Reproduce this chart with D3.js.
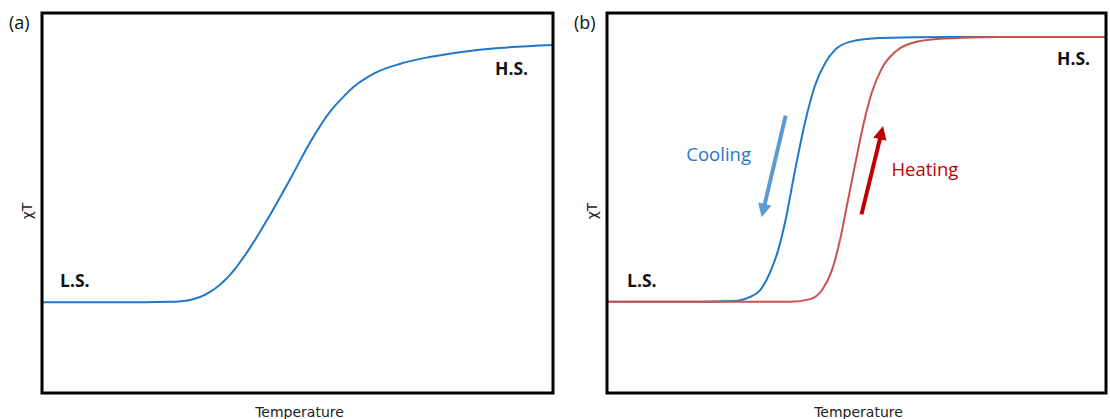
<!DOCTYPE html>
<html>
<head>
<meta charset="utf-8">
<script src="https://cdn.jsdelivr.net/npm/d3@7"></script>
<style>
html,body{margin:0;padding:0;background:#fff;}
svg{display:block;}
</style>
</head>
<body>
<svg id="chart" width="1110" height="419"></svg>
<script>
// Panel (a): gradual spin crossover
const tempA = [0, 20, 25.1, 29, 32.9, 36.8, 40.7, 44.6, 48.5, 52.4, 56.3, 59.3, 61.2, 62.2, 65.1, 70, 75.8, 81.7, 89.5, 100];
const chiA  = [23.9, 23.9, 24.0, 24.5, 26.6, 31.1, 38.2, 46.8, 56.1, 65.8, 73.9, 78.4, 80.8, 81.8, 84.2, 86.6, 88.4, 89.7, 90.8, 91.6];

// Panel (b): abrupt transition with hysteresis
const tempCool = [0, 18.8, 25.3, 28.7, 30.7, 32.7, 34.3, 35.7, 37.7, 39.7, 41.7, 43.7, 45.7, 48.7, 54.7, 68.7, 100];
const chiCool  = [24, 24, 24.2, 25.3, 27.1, 31.8, 37.6, 45, 58.7, 71.3, 81, 86.8, 90.3, 92.4, 93.4, 93.7, 93.7];
const tempHeat = [0, 36.7, 40.7, 43.1, 45.1, 46.7, 48.3, 49.9, 51.5, 53.1, 55.1, 57.7, 61.1, 66.7, 78.6, 100];
const chiHeat  = [24, 24, 24.7, 27.1, 32.4, 40.3, 50.8, 61.3, 71.3, 79.2, 85.5, 89.7, 92.1, 93.2, 93.7, 93.7];

const panelLabels = ["(a)", "(b)"];
const xTitle = "Temperature";
const yTitle = "χT";
const stateLabels = ["L.S.", "H.S."];

const svg = d3.select("#chart");
const plotTop = 13, plotBottom = 393;
const y = d3.scaleLinear().domain([0, 100]).range([plotBottom, plotTop]);

function panel(x0, x1, label, lsPos, hsPos) {
  const x = d3.scaleLinear().domain([0, 100]).range([x0, x1]);
  const g = svg.append("g");
  g.append("text").attr("x", x0 - 33).attr("y", 29).attr("font-family", "Open Sans, sans-serif")
    .attr("font-size", 18).attr("fill", "#111").text(label);
  g.append("text").attr("transform", `translate(${x0 - 10},${211}) rotate(-90)`)
    .attr("text-anchor", "middle").attr("font-family", "DejaVu Sans, sans-serif")
    .attr("font-size", 14).attr("fill", "#222").text(yTitle);
  g.append("text").attr("x", (x0 + x1) / 2 + 2).attr("y", 417).attr("text-anchor", "middle")
    .attr("font-family", "DejaVu Sans, sans-serif").attr("font-size", 14).attr("fill", "#222").text(xTitle);
  g.append("text").attr("x", lsPos[0]).attr("y", lsPos[1]).attr("font-family", "Open Sans, sans-serif")
    .attr("font-weight", "bold").attr("font-size", 17.5).attr("fill", "#111").text(stateLabels[0]);
  g.append("text").attr("x", hsPos[0]).attr("y", hsPos[1]).attr("font-family", "Open Sans, sans-serif")
    .attr("font-weight", "bold").attr("font-size", 17.5).attr("fill", "#111").text(stateLabels[1]);
  return {g, x};
}

function drawLine(g, x, xs, ys, color) {
  const line = d3.line().x(d => x(d[0])).y(d => y(d[1])).curve(d3.curveMonotoneX);
  g.append("path").datum(xs.map((v, i) => [v, ys[i]]))
    .attr("d", line).attr("fill", "none").attr("stroke", color).attr("stroke-width", 2);
}

function frame(g, x0, x1) {
  g.append("rect").attr("x", x0).attr("y", plotTop).attr("width", x1 - x0).attr("height", plotBottom - plotTop)
    .attr("fill", "none").attr("stroke", "#000").attr("stroke-width", 3);
}

// Panel a
const A = panel(42, 553, panelLabels[0], [60, 287], [495, 75]);
drawLine(A.g, A.x, tempA, chiA, "#1f78c8");
frame(A.g, 42, 553);

// Panel b
const B = panel(607, 1106, panelLabels[1], [627, 287], [1057, 65]);
drawLine(B.g, B.x, tempCool, chiCool, "#1f78c8");
drawLine(B.g, B.x, tempHeat, chiHeat, "#c9514e");
frame(B.g, 607, 1106);

// Arrows and annotation text
const defs = svg.append("defs");
function marker(id, color) {
  defs.append("marker").attr("id", id).attr("viewBox", "0 0 10 10").attr("refX", 5).attr("refY", 5)
    .attr("markerWidth", 3.4).attr("markerHeight", 3.4).attr("orient", "auto")
    .append("path").attr("d", "M0,0 L10,5 L0,10 Z").attr("fill", color);
}
marker("mc", "#5b9bd5");
marker("mh", "#c00000");
B.g.append("line").attr("x1", B.x(35.8)).attr("y1", y(73)).attr("x2", B.x(31.3)).attr("y2", y(48))
  .attr("stroke", "#5b9bd5").attr("stroke-width", 4).attr("marker-end", "url(#mc)");
B.g.append("line").attr("x1", B.x(51)).attr("y1", y(47)).attr("x2", B.x(55))
  .attr("y2", y(68.5)).attr("stroke", "#c00000").attr("stroke-width", 4).attr("marker-end", "url(#mh)");
B.g.append("text").attr("x", B.x(15.9)).attr("y", y(61)).attr("font-family", "Open Sans, sans-serif")
  .attr("font-size", 18.5).attr("fill", "#1f78c8").text("Cooling");
B.g.append("text").attr("x", B.x(57)).attr("y", y(57)).attr("font-family", "Open Sans, sans-serif")
  .attr("font-size", 18.5).attr("fill", "#c00000").text("Heating");
</script>
</body>
</html>
